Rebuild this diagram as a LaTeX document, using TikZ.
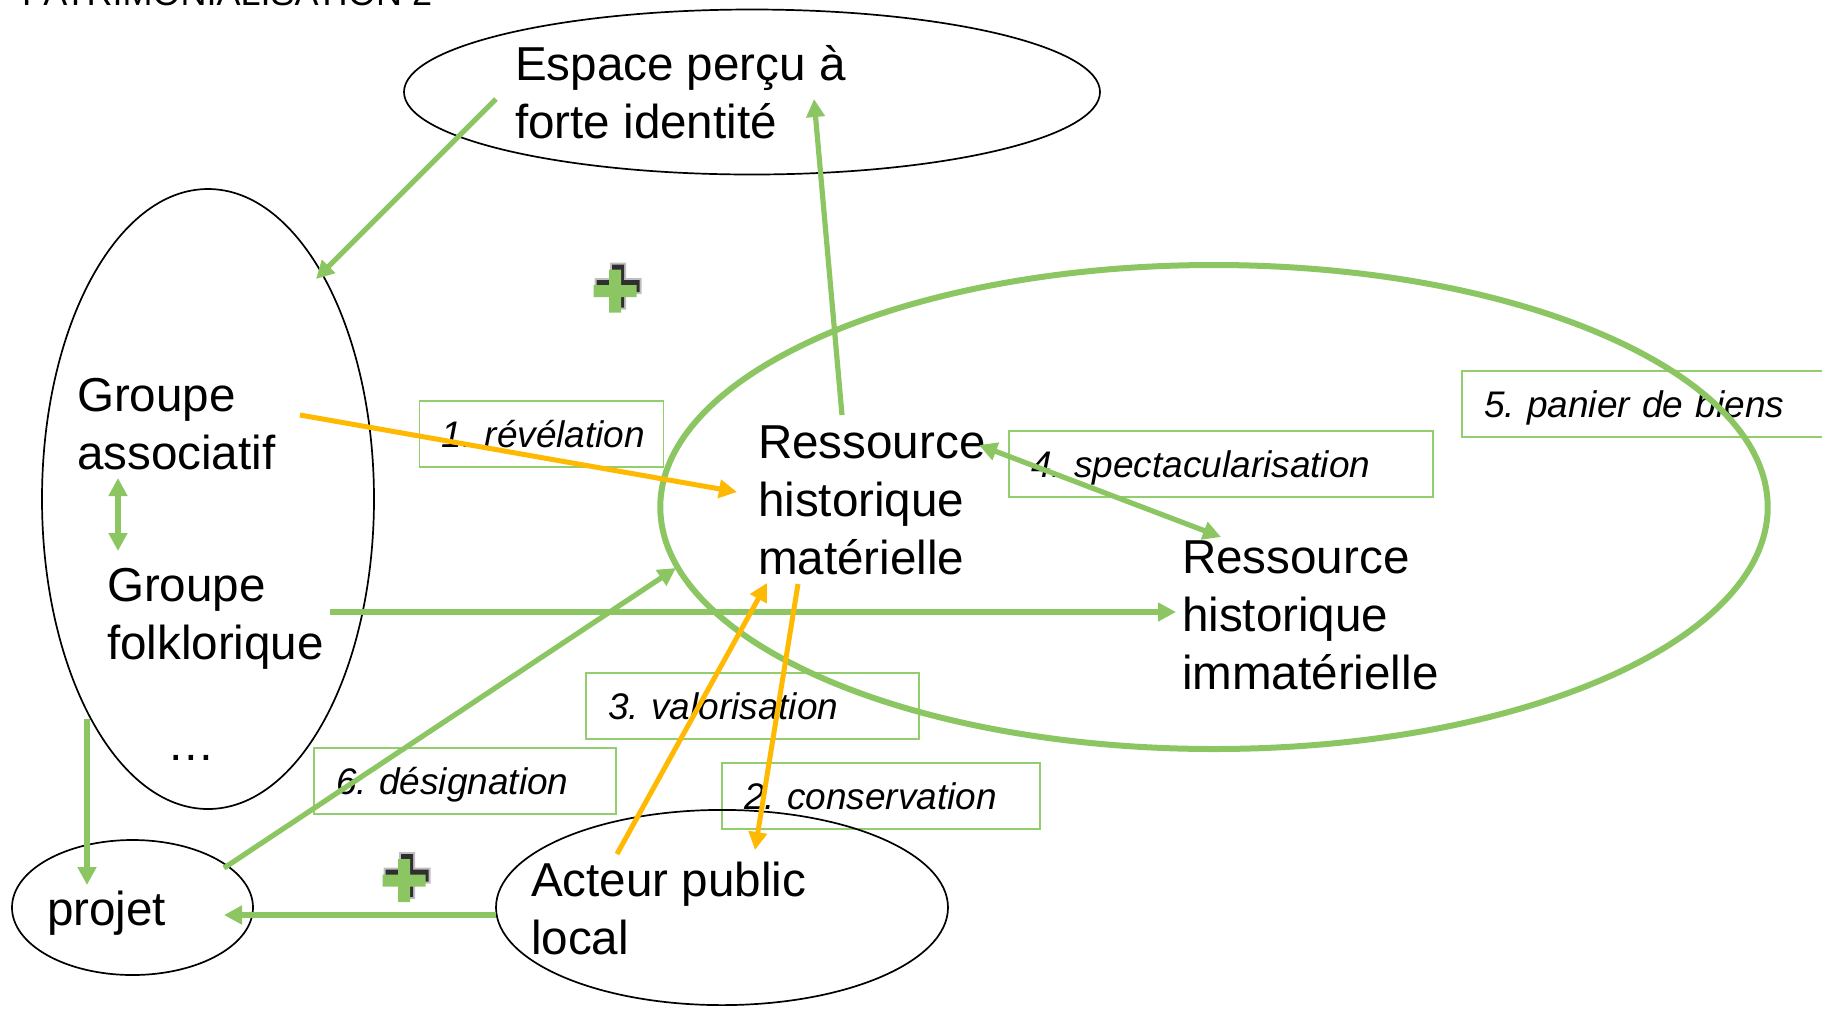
\documentclass[tikz,border=0pt]{standalone}
\usepackage{fontspec}
\setmainfont{Liberation Sans}
\usetikzlibrary{arrows.meta,shapes.geometric}
\definecolor{gr}{RGB}{140,198,99}
\definecolor{grl}{RGB}{146,205,110}
\definecolor{orng}{RGB}{255,185,0}
\frenchspacing
\begin{document}
\begin{tikzpicture}[x=0.5pt,y=-0.5pt,
  every node/.style={inner sep=0pt, outer sep=0pt},
  oval/.style={ellipse, draw=black, line width=0.85pt},
  bigtxt/.style={font=\fontsize{23.8}{29}\selectfont, align=left, anchor=west},
  lbl/.style={draw=grl, line width=0.8pt, anchor=north west, font=\fontsize{18.5}{22}\selectfont\itshape\frenchspacing, align=left, inner xsep=11pt, minimum height=33pt, text height=15.5pt, text depth=2pt},
  garr/.style={draw=gr, line width=2.6pt, -{Triangle[length=9pt,width=9pt]}},
  gdarr/.style={draw=gr, line width=2.6pt, {Triangle[length=9pt,width=9pt]}-{Triangle[length=9pt,width=9pt]}},
  oarr/.style={draw=orng, line width=2.5pt, -{Triangle[length=9pt,width=9pt]}},
  greencross/.pic={
    \fill[black, opacity=0.25] (-23.5+3,-8-5) rectangle (23.5+3,8-5) (-8+3,-23.5-5) rectangle (8+3,23.5-5);
    \fill[black, opacity=0.75] (-21.5+3,-6-5) rectangle (21.5+3,6-5) (-6+3,-21.5-5) rectangle (6+3,21.5-5);
    \fill[gr] (-21.5,-6) rectangle (21.5,6) (-6,-21.5) rectangle (6,21.5);
  }
]
\useasboundingbox (0,0) rectangle (1822,1009);
\fill[white] (0,0) rectangle (1822,1009);

% title (cut off at top, as in the reference)
\node[anchor=base west, font=\fontsize{18}{22}\selectfont] (title) at (22,5) {PATRIMONIALISATION 2};

% labels (boxes)
\node[lbl, text width=100pt] (l1) at (419.5,401) {\mbox{1. révélation}};
\node[lbl, text width=190pt] (l4) at (1009,431) {\mbox{4. spectacularisation}};
\node[lbl, text width=190pt] (l5) at (1462,371) {\mbox{5. panier de biens}};
\node[lbl, text width=144.5pt] (l3) at (586,673) {\mbox{3. valorisation}};
\node[lbl, text width=137pt] (l2) at (722,763) {\mbox{2. conservation}};
\node[lbl, text width=129pt] (l6) at (314,748) {\mbox{6. désignation}};

% ellipses
\node[oval, minimum width=348pt, minimum height=82.5pt] (esp) at (752,92) {};
\node[oval, minimum width=166pt, minimum height=310pt] (grp) at (208,499) {};
\node[oval, minimum width=120.5pt, minimum height=67.5pt] (proj) at (132.5,907.5) {};
\node[oval, minimum width=226pt, minimum height=97.6pt] (act) at (722,907.5) {};
\node[ellipse, draw=gr, line width=3pt, minimum width=553.7pt, minimum height=242pt] (res) at (1214,507) {};

% texts
\node[bigtxt] (tesp) at (515,92) {Espace perçu à\\forte identité};
\node[bigtxt] (tassoc) at (77,424) {Groupe\\associatif};
\node[bigtxt] (tfolk) at (107,619) {Groupe\\folklorique};
\node[font=\fontsize{23.8}{29}\selectfont, anchor=base] (tdots) at (191,760) {…};
\node[bigtxt] (tproj) at (47,913) {projet};
\node[bigtxt] (tact) at (531,908) {Acteur public\\local};
\node[bigtxt] (tmat) at (758,500) {Ressource\\historique\\matérielle};
\node[bigtxt] (timm) at (1182,615) {Ressource\\historique\\immatérielle};

% plus signs
\pic at (615,291) {greencross};
\pic at (404,880.5) {greencross};

% connector end points
\coordinate (c1s) at (496,99);   \coordinate (c1e) at (316,279);
\coordinate (c2s) at (842,415);  \coordinate (c2e) at (814,99);
\coordinate (c3s) at (300,415);  \coordinate (c3e) at (737,492);
\coordinate (c4s) at (118,478);  \coordinate (c4e) at (118,551);
\coordinate (c5s) at (330,612);  \coordinate (c5e) at (1176,612);
\coordinate (c6s) at (979,445);  \coordinate (c6e) at (1221,537);
\coordinate (c7s) at (87,719);   \coordinate (c7e) at (87,885);
\coordinate (c8s) at (496,915);  \coordinate (c8e) at (224,915);
\coordinate (c9s) at (224,868);  \coordinate (c9e) at (676,568);
\coordinate (c10s) at (617,854); \coordinate (c10e) at (767,583);
\coordinate (c11s) at (798,584); \coordinate (c11e) at (755,850);

% connectors
\draw[garr] (c1s) -- (c1e);
\draw[garr] (c2s) -- (c2e);
\draw[oarr] (c3s) -- (c3e);
\draw[gdarr] (c4s) -- (c4e);
\draw[garr] (c5s) -- (c5e);
\draw[gdarr] (c6s) -- (c6e);
\draw[garr] (c7s) -- (c7e);
\draw[garr] (c8s) -- (c8e);
\draw[garr] (c9s) -- (c9e);
\draw[oarr] (c10s) -- (c10e);
\draw[oarr] (c11s) -- (c11e);
\end{tikzpicture}
\end{document}
